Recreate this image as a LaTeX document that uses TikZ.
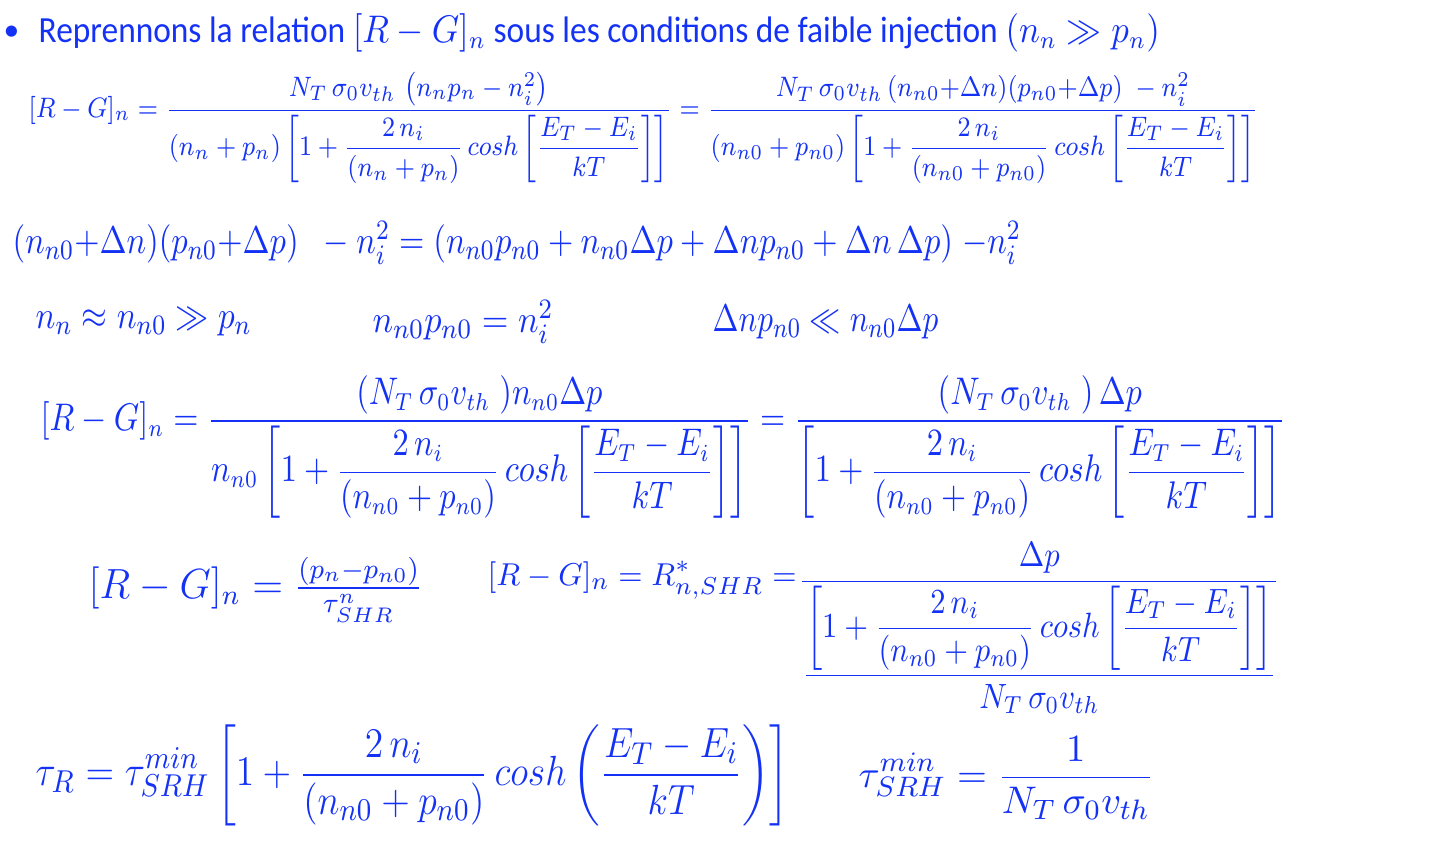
\documentclass[tikz,border=0pt]{standalone}
\usepackage{amsmath}
\usepackage[no-math]{fontspec}
\setmainfont{Carlito}
\definecolor{bleu}{RGB}{20,50,245}
\newcommand{\facteur}[1]{\left[1+\dfrac{2\,n_i}{#1}\,cosh\left[\dfrac{E_T-E_i}{kT}\right]\right]}
\tikzset{eq/.style={anchor=west,inner sep=0pt,text=bleu}}
\begin{document}
\begin{tikzpicture}[x=0.1mm,y=-0.1mm]
        \useasboundingbox (0,0) rectangle (1440,845);

        % Titre
        \node[eq,font=\fontsize{9}{11}\selectfont] (puce) at (3,33) {•};
        \node[eq,font=\fontsize{10.5}{12}\selectfont] (titre) at (38,33)
            {\scalebox{0.905}[1]{Reprennons la relation $[R-G]_n$ sous les conditions de faible injection $(n_n \gg p_n)$}};

        % Relation generale
        \node[eq,font=\fontsize{8.5}{10}\selectfont] (rg) at (28,128)
            {\scalebox{0.87}[1]{$\displaystyle [R-G]_n=\frac{N_T\,\sigma_0 v_{th}\,\left(n_np_n-n_i^2\right)}{(n_n+p_n)\facteur{(n_n+p_n)}}
             =\frac{N_T\,\sigma_0 v_{th}\,(n_{n0}{+}\Delta n)(p_{n0}{+}\Delta p)\;-n_i^2}{(n_{n0}+p_{n0})\facteur{(n_{n0}+p_{n0})}}$}};

        % Developpement
        \node[eq,font=\fontsize{11}{13}\selectfont] (dev) at (12,243)
            {\scalebox{0.845}[1]{$(n_{n0}{+}\Delta n)(p_{n0}{+}\Delta p)\;\;-n_i^2=(n_{n0}p_{n0}+n_{n0}\Delta p+\Delta np_{n0}+\Delta n\,\Delta p)\;{-}n_i^2$}};

        % Approximations
        \node[eq,font=\fontsize{11}{13}\selectfont] (app1) at (35,322) {\scalebox{0.86}[1]{$n_n\approx n_{n0}\gg p_n$}};
        \node[eq,font=\fontsize{11}{13}\selectfont] (app2) at (372,322) {\scalebox{0.89}[1]{$n_{n0}p_{n0}=n_i^2$}};
        \node[eq,font=\fontsize{11}{13}\selectfont] (app3) at (712,322) {\scalebox{0.81}[1]{$\Delta np_{n0}\ll n_{n0}\Delta p$}};

        % Simplification
        \node[eq,font=\fontsize{10.5}{12}\selectfont] (simp) at (40,447)
            {\scalebox{0.84}[1]{$\displaystyle [R-G]_n=\frac{(N_T\,\sigma_0 v_{th}\;)n_{n0}\Delta p}{n_{n0}\facteur{(n_{n0}+p_{n0})}}
             =\frac{(N_T\,\sigma_0 v_{th}\;)\,\Delta p}{\facteur{(n_{n0}+p_{n0})}}$}};

        % Duree de vie
        \node[eq,font=\fontsize{12}{14}\selectfont] (rgtau) at (88,590)
            {\scalebox{0.96}[1]{$[R-G]_n=\frac{(p_n-p_{n0})}{\tau^{n}_{SHR}}$}};
        \node[eq,font=\fontsize{9.5}{11}\selectfont] (rgr) at (487,580) {\scalebox{0.96}[1]{$[R-G]_n=R^{*}_{n,SHR}=$}};
        \node[eq,font=\fontsize{10}{12}\selectfont] (frac) at (798,628)
            {\scalebox{0.87}[1]{$\displaystyle\frac{\Delta p}{\dfrac{\facteur{(n_{n0}+p_{n0})}}{N_T\,\sigma_0 v_{th}}}$}};

        % Temps de vie
        \node[eq,font=\fontsize{12.3}{14}\selectfont] (tauR) at (35,775)
            {\scalebox{0.89}[1]{$\displaystyle\tau_R=\tau^{min}_{SRH}\left[1+\frac{2\,n_i}{(n_{n0}+p_{n0})}\,cosh\left(\frac{E_T-E_i}{kT}\right)\right]$}};
        \node[eq,font=\fontsize{11}{13}\selectfont] (taumin) at (858,778)
            {$\displaystyle\tau^{min}_{SRH}=\frac{1}{N_T\,\sigma_0 v_{th}}$};
\end{tikzpicture}
\end{document}
